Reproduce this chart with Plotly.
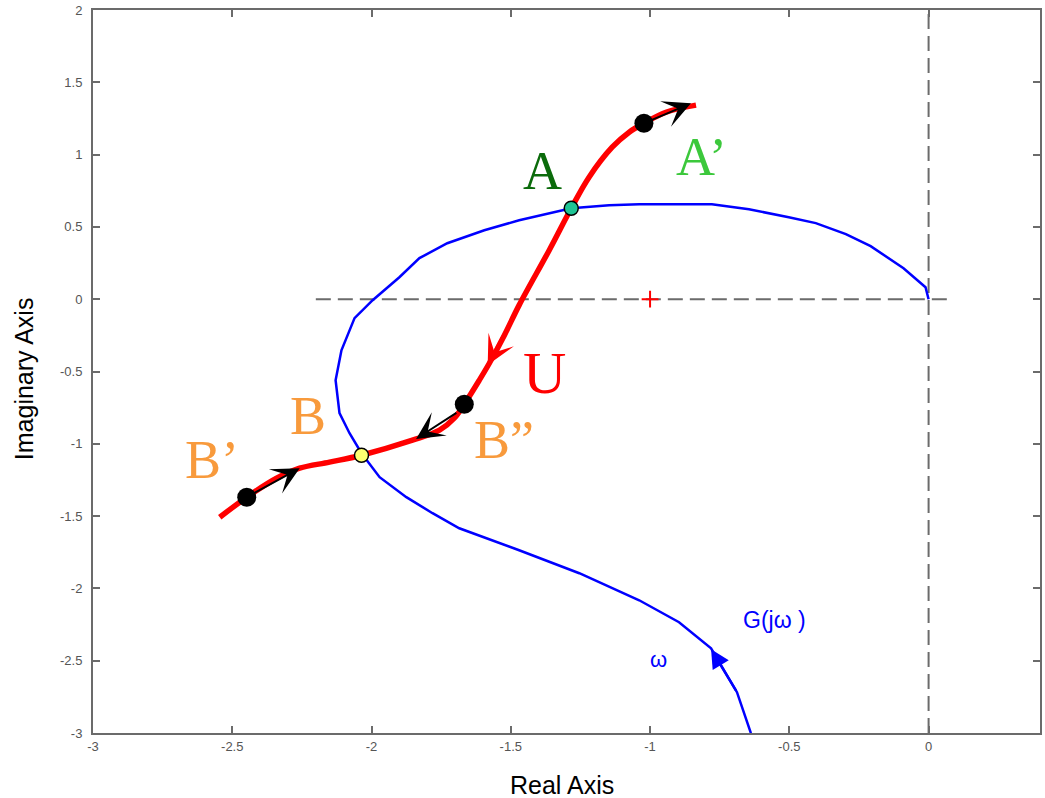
import plotly.graph_objects as go

# Nyquist-like curve G(jw) (blue)
g_re = [-0.638, -0.688, -0.781, -0.896, -1.039, -1.254, -1.470, -1.685, -1.781, -1.875,
        -1.971, -2.036, -2.079, -2.115, -2.129, -2.108, -2.061, -1.996, -1.900, -1.828,
        -1.728, -1.595, -1.470, -1.283, -1.147, -1.039, -0.778, -0.645, -0.502, -0.405,
        -0.297, -0.208, -0.090, -0.011, 0.0]
g_im = [-3.001, -2.718, -2.414, -2.234, -2.082, -1.895, -1.736, -1.584, -1.480, -1.369,
        -1.231, -1.065, -0.927, -0.788, -0.560, -0.353, -0.131, -0.007, 0.152, 0.284,
        0.387, 0.477, 0.546, 0.629, 0.650, 0.657, 0.657, 0.622, 0.567, 0.526,
        0.450, 0.367, 0.214, 0.083, 0.0]

# Describing-function locus U (red)
u_re = [-2.545, -2.448, -2.341, -2.258, -2.151, -2.036, -1.853, -1.756, -1.703, -1.667,
        -1.613, -1.577, -1.523, -1.470, -1.362, -1.283, -1.219, -1.136, -1.075, -1.022,
        -0.943, -0.835]
u_im = [-1.508, -1.369, -1.238, -1.169, -1.127, -1.079, -0.975, -0.906, -0.823, -0.726,
        -0.560, -0.443, -0.249, -0.041, 0.339, 0.629, 0.844, 1.051, 1.155, 1.217,
        1.293, 1.342]

# reference lines
hline_re = [-2.2, 0.072]
hline_im = [0, 0]
vline_re = [0, 0]
vline_im = [-3, 2]

# special points
crit_re = [-1.0]
crit_im = [0.0]
pointA_re = [-1.283]
pointA_im = [0.629]
pointB_re = [-2.036]
pointB_im = [-1.079]
dots_re = [-2.448, -1.667, -1.022]
dots_im = [-1.369, -0.726, 1.217]

# arrows: (tail_re, tail_im, tip_re, tip_im)
black_arrows = [(-2.448, -1.369, -2.258, -1.169),
                (-1.690, -0.780, -1.840, -0.966),
                (-1.022, 1.217, -0.853, 1.355)]
red_arrow = (-1.525, -0.245, -1.583, -0.455)
blue_arrow = (-0.688, -2.718, -0.781, -2.420)

# labels
label_texts = ["A", "A’", "U", "B", "B’", "B”"]
label_re = [-1.387, -0.815, -1.378, -2.227, -2.574, -1.523]
label_im = [0.89, 0.98, -0.51, -0.805, -1.115, -0.975]
label_colors = ["#0b6b0b", "#3cc83c", "#ff0000", "#f89a3c", "#f89a3c", "#f89a3c"]

xtick_vals = [-3, -2.5, -2, -1.5, -1, -0.5, 0]
xtick_text = ["-3", "-2.5", "-2", "-1.5", "-1", "-0.5", "0"]
ytick_vals = [2, 1.5, 1, 0.5, 0, -0.5, -1, -1.5, -2, -2.5, -3]
ytick_text = ["2", "1.5", "1", "0.5", "0", "-0.5", "-1", "-1.5", "-2", "-2.5", "-3"]

fig = go.Figure()
dash_style = dict(color="#6b6b6b", width=2, dash="15px,7px")
fig.add_trace(go.Scatter(x=hline_re, y=hline_im, mode="lines", line=dash_style, hoverinfo="skip"))
fig.add_trace(go.Scatter(x=vline_re, y=vline_im, mode="lines", line=dash_style, hoverinfo="skip"))
fig.add_trace(go.Scatter(x=g_re, y=g_im, mode="lines", line=dict(color="#0000ff", width=2.5)))
fig.add_trace(go.Scatter(x=u_re, y=u_im, mode="lines", line=dict(color="#ff0000", width=5.5, shape="spline")))
fig.add_trace(go.Scatter(x=crit_re, y=crit_im, mode="markers",
                         marker=dict(symbol="cross-thin", size=12, line=dict(color="#ff0000", width=2))))
fig.add_trace(go.Scatter(x=dots_re, y=dots_im, mode="markers",
                         marker=dict(symbol="circle", size=19, color="#000000")))
fig.add_trace(go.Scatter(x=pointA_re, y=pointA_im, mode="markers",
                         marker=dict(symbol="circle", size=14, color="#1fc495",
                                     line=dict(color="#000000", width=1.5))))
fig.add_trace(go.Scatter(x=pointB_re, y=pointB_im, mode="markers",
                         marker=dict(symbol="circle", size=14, color="#ffff70",
                                     line=dict(color="#000000", width=1.5))))

annotations = []
for (tx, ty, hx, hy) in black_arrows:
    annotations.append(dict(x=hx, y=hy, ax=tx, ay=ty, xref="x", yref="y", axref="x", ayref="y",
                            showarrow=True, arrowhead=3, arrowsize=2.3, arrowwidth=2,
                            arrowcolor="#000000", text=""))
annotations.append(dict(x=red_arrow[2], y=red_arrow[3], ax=red_arrow[0], ay=red_arrow[1],
                        xref="x", yref="y", axref="x", ayref="y", showarrow=True,
                        arrowhead=3, arrowsize=1.6, arrowwidth=3, arrowcolor="#ff0000", text=""))
annotations.append(dict(x=blue_arrow[2], y=blue_arrow[3], ax=blue_arrow[0], ay=blue_arrow[1],
                        xref="x", yref="y", axref="x", ayref="y", showarrow=True,
                        arrowhead=2, arrowsize=1.5, arrowwidth=2.5, arrowcolor="#0000ff", text=""))
for t, lx, ly, c in zip(label_texts, label_re, label_im, label_colors):
    size = 60 if t == "U" else 54
    annotations.append(dict(x=lx, y=ly, xref="x", yref="y", text=t, showarrow=False,
                            font=dict(family="Liberation Serif", size=size, color=c),
                            xanchor="center", yanchor="middle"))
annotations.append(dict(x=-0.553, y=-2.22, xref="x", yref="y", text="G(jω )", showarrow=False,
                        font=dict(family="Liberation Sans", size=23, color="#0000ff"),
                        xanchor="center", yanchor="middle"))
annotations.append(dict(x=-0.97, y=-2.495, xref="x", yref="y", text="ω", showarrow=False,
                        font=dict(family="Liberation Sans", size=22, color="#0000ff"),
                        xanchor="center", yanchor="middle"))
annotations.append(dict(x=0.495, y=-0.072, xref="paper", yref="paper", text="Real Axis",
                        showarrow=False, font=dict(family="Liberation Sans", size=25, color="#000000"),
                        xanchor="center", yanchor="middle"))
annotations.append(dict(x=-0.0727, y=0.4896, xref="paper", yref="paper", text="Imaginary Axis",
                        textangle=-90, showarrow=False,
                        font=dict(family="Liberation Sans", size=25, color="#000000"),
                        xanchor="center", yanchor="middle"))

axis_common = dict(showgrid=False, zeroline=False, showline=True, linecolor="#6b6b6b", linewidth=2,
                   mirror="ticks", ticks="inside", ticklen=7, tickwidth=2, tickcolor="#6b6b6b",
                   tickfont=dict(family="Liberation Sans", size=13, color="#555555"))

fig.update_layout(
    width=1045, height=798,
    margin=dict(l=93, r=3, t=10, b=65),
    paper_bgcolor="white", plot_bgcolor="white",
    showlegend=False,
    annotations=annotations,
    xaxis=dict(range=[-3, 0.4], tickvals=xtick_vals, ticktext=xtick_text, **axis_common),
    yaxis=dict(range=[-3, 2], tickvals=ytick_vals, ticktext=ytick_text, ticklabelstandoff=6,
               **axis_common),
)

fig.write_html("out.html", config={"displayModeBar": False},
               post_script="document.body.style.margin='0';document.body.style.overflow='hidden';")
